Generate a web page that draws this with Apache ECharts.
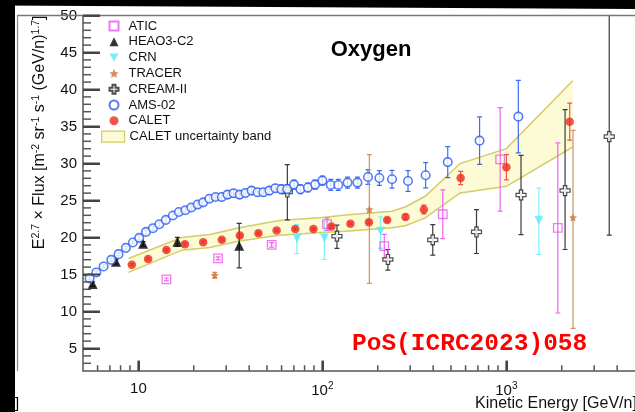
<!DOCTYPE html>
<html><head><meta charset="utf-8">
<script src="https://cdn.jsdelivr.net/npm/echarts@6/dist/echarts.min.js"></script>
<style>html,body{margin:0;padding:0;background:#fff}#c{width:635px;height:412px}</style>
</head><body><div id="c"></div>
<script>
// ---------- data ----------
const amsE = [5.43,5.91,6.47,7.12,7.80,8.55,9.33,10.1,11.0,12.0,13.0,14.1,15.4,16.6,18.0,19.4,21.0,22.5,24.3,26.3,28.4,30.5,32.9,35.5,38.2,41.2,44.4,47.8,51.5,55.5,59.8,64.4,70.1,76.0,83.4,91.3,100,111,122,137,155,177,204,239,292,364,480,715,1161];
const amsV = [14.47,15.28,16.09,16.98,17.75,18.60,19.33,19.95,20.76,21.26,21.79,22.38,22.97,23.45,23.68,24.05,24.45,24.75,25.24,25.48,25.48,25.80,25.98,25.80,26.02,26.34,26.11,26.11,26.34,26.65,26.52,26.56,27.15,26.52,26.75,27.15,27.69,27.10,27.10,27.42,27.42,28.18,28.04,27.87,27.64,28.41,30.19,33.09,36.33];
const amsErr = [0.2,0.2,0.2,0.2,0.2,0.2,0.2,0.3,0.3,0.3,0.3,0.3,0.4,0.4,0.4,0.4,0.4,0.4,0.4,0.4,0.5,0.5,0.5,0.5,0.5,0.5,0.5,0.5,0.5,0.5,0.6,0.6,0.6,0.6,0.6,0.6,0.6,0.75,0.75,0.75,0.75,1.0,1.0,1.2,1.4,1.7,2.1,3.2,4.9];

const caletE = [9.21,11.3,14.2,17.9,22.5,28.4,35.6,44.9,56.4,71.2,89.4,112,142,179,225,283,356,564,1000,2209];
const caletV = [16.33,17.11,18.31,19.10,19.37,19.70,20.28,20.58,20.96,21.16,21.16,21.48,21.86,22.06,22.38,22.78,23.78,28.04,29.49,35.65];
const caletErr = [0.15,0.15,0.15,0.15,0.15,0.15,0.15,0.15,0.15,0.15,0.15,0.15,0.15,0.15,0.2,0.3,0.6,0.9,1.7,2.5];

const bandE  = [8.83,17.2,24.4,35.5,58.3,100,134,239,282,362,560,1000,2294];
const bandHi = [17.17,20.0,20.40,21.32,22.29,22.70,23.05,23.55,24.13,25.57,29.99,32.01,41.19];
const bandLo = [15.28,18.29,18.65,19.54,20.31,20.67,20.85,21.32,21.59,22.65,26.02,26.92,32.23];

const heaoE = [5.64,7.55,10.6,16.3,35.3];
const heaoV = [13.70,16.71,19.14,19.41,18.9];
const heaoErr = [0.3,0.3,0.3,0.6,3.0];

const aticE = [14.2,27.1,53.0,106,217,451,925,1903];
const aticV = [14.33,17.17,19.0,21.80,18.83,23.14,30.56,21.30];
const aticErr = [0.2,0.2,0.3,0.85,1.6,3.3,7.0,11.5];

const crnE = [72.7,102.5,207,1502];
const crnV = [19.87,19.94,20.85,22.33];
const crnLo = [17.84,17.03,18.52,17.71];
const crnHi = [21.75,22.1,22.78,26.69];

const tracerE = [26.0,180,2302];
const tracerV = [14.91,23.78,22.70];
const tracerLo = [14.5,13.79,7.72];
const tracerHi = [15.3,31.2,34.47];

const creamE = [64.5,120,227,398,688,1201,2084,3622];
const creamV = [26.15,20.18,17.03,19.68,20.76,25.75,26.34,33.63];
const creamLo = [22.38,18.52,15.59,17.61,17.84,20.40,18.38,20.31];
const creamHi = [29.85,21.66,18.38,21.75,23.78,31.11,37.27,55];

// axis ranges and ticks
const X_MIN = 5, X_MAX = 5000, Y_MIN = 2, Y_MAX = 50;
const xMajor = [10,100,1000];
const xMinor = [6,7,8,9,20,30,40,50,60,70,80,90,200,300,400,500,600,700,800,900,2000,3000,4000];
const yMajor = [5,10,15,20,25,30,35,40,45,50];
const yMinor = [3,4,6,7,8,9,11,12,13,14,16,17,18,19,21,22,23,24,26,27,28,29,31,32,33,34,36,37,38,39,41,42,43,44,46,47,48,49];

// ---------- helpers ----------
const FONT = "'Liberation Sans', Arial, Helvetica, sans-serif";
const crossPath = 'path://M-1,-3L1,-3L1,-1L3,-1L3,1L1,1L1,3L-1,3L-1,1L-3,1L-3,-1L-1,-1Z';
const starPath = 'path://M0,-10L2.9,-4L9.5,-3.1L4.7,1.5L5.9,8.1L0,5L-5.9,8.1L-4.7,1.5L-9.5,-3.1L-2.9,-4Z';
const downTri = 'path://M-5,-4L5,-4L0,5Z';

function errSeries(name, rows, color, width, cap) {
  return {
    type: 'custom', name: name, clip: true, z: 3,
    encode: {x: 0, y: [1, 2]},
    data: rows,
    renderItem: function (params, api) {
      const x = api.value(0), lo = api.value(1), hi = api.value(2);
      const p1 = api.coord([x, lo]), p2 = api.coord([x, hi]);
      const st = {stroke: color, lineWidth: width};
      return {type: 'group', children: [
        {type: 'line', shape: {x1: p1[0], y1: p1[1], x2: p2[0], y2: p2[1]}, style: st},
        {type: 'line', shape: {x1: p1[0]-cap, y1: p1[1], x2: p1[0]+cap, y2: p1[1]}, style: st},
        {type: 'line', shape: {x1: p2[0]-cap, y1: p2[1], x2: p2[0]+cap, y2: p2[1]}, style: st}
      ]};
    }
  };
}
function symErr(E, V, Err) { return E.map((e, i) => [e, V[i]-Err[i], V[i]+Err[i]]); }
function asymErr(E, Lo, Hi) { return E.map((e, i) => [e, Lo[i], Hi[i]]); }
function pts(E, V) { return E.map((e, i) => [e, V[i]]); }

const bandFill = '#fdfbd6', bandLine = '#d3cc68';

const baseGraphic = [
  {type: 'rect', shape: {x: 0, y: 0, width: 15, height: 412}, style: {fill: '#000'}, z: 100},
  {type: 'polygon', shape: {points: [[0,0],[635,0],[635,9],[0,5.5]]}, style: {fill: '#000'}, z: 100},
  {type: 'line', shape: {x1: 17, y1: 15.5, x2: 635, y2: 15.5}, style: {stroke: '#777', lineWidth: 1.5}, z: 50},
  {type: 'line', shape: {x1: 17.5, y1: 15.5, x2: 17.5, y2: 371}, style: {stroke: '#888', lineWidth: 1.2}, z: 50},
  {type: 'text', x: 371, y: 50, z: 50,
   style: {text: 'Oxygen', font: "bold 22px 'Liberation Sans', Arial, sans-serif", fill: '#000', align: 'center', verticalAlign: 'middle'}},
  {type: 'text', x: 352, y: 344, z: 50,
   style: {text: 'PoS(ICRC2023)058', font: "bold 24.5px 'Liberation Mono', 'Courier New', monospace", fill: '#ff0000', align: 'left', verticalAlign: 'middle'}},
  {type: 'text', x: 40, y: 15.5, rotation: Math.PI / 2, z: 50,
   style: {text: 'E{s|2.7} × Flux [m{s|-2} sr{s|-1} s{s|-1} (GeV/n){s|1.7}]',
     font: "16px 'Liberation Sans', Arial, sans-serif", fill: '#111', align: 'right', verticalAlign: 'middle',
     rich: {s: {fontSize: 10.5, fontFamily: FONT, fill: '#111', verticalAlign: 'top', padding: [0,0,8,0]}}}},
  {type: 'text', x: 475, y: 404, z: 50,
   style: {text: 'Kinetic Energy [GeV/n]', font: "16px 'Liberation Sans', Arial, sans-serif", fill: '#111', align: 'left', verticalAlign: 'middle'}},
  {type: 'text', x: 15, y: 404, z: 101,
   style: {text: ']', font: "15px 'Liberation Sans', Arial, sans-serif", fill: '#000', align: 'left', verticalAlign: 'middle'}}
];

const option = {
  animation: false,
  backgroundColor: '#ffffff',
  grid: {left: 83, top: 15.5, width: 555, height: 355.2, containLabel: false},
  xAxis: {type: 'log', logBase: 10, min: X_MIN, max: X_MAX, position: 'bottom',
     axisLine: {show: true, lineStyle: {color: '#555', width: 1.5}},
     axisTick: {show: true, inside: true, length: 10, customValues: xMajor, lineStyle: {color: '#444', width: 2}},
     axisLabel: {show: true, customValues: xMajor, margin: 11, fontSize: 15, color: '#111', fontFamily: FONT,
       formatter: function (v) { const p = Math.round(Math.log10(v)); return p === 1 ? '10' : '10{s|' + p + '}'; },
       rich: {s: {fontSize: 10, fontFamily: FONT, color: '#111', verticalAlign: 'top', padding: [0,0,9,0]}}},
     splitLine: {show: false}},
  yAxis: {type: 'value', min: Y_MIN, max: Y_MAX, position: 'left',
     axisLine: {show: true, lineStyle: {color: '#555', width: 1.5}},
     axisTick: {show: true, inside: true, length: 17, customValues: yMajor, lineStyle: {color: '#444', width: 2}},
     axisLabel: {show: true, customValues: yMajor, margin: 6, fontSize: 15, color: '#111', fontFamily: FONT},
     splitLine: {show: false}},
  legend: [
    {orient: 'vertical', left: 108.5, top: 18.1, padding: 0, itemWidth: 9, itemHeight: 9, itemGap: 0,
     textStyle: {fontSize: 13, color: '#111', fontFamily: FONT, lineHeight: 15.8, padding: [0,0,0,5]},
     data: [
       {name: 'ATIC'}, {name: 'HEAO3-C2'}, {name: 'CRN', icon: downTri}, {name: 'TRACER'},
       {name: 'CREAM-II'}, {name: 'AMS-02'}, {name: 'CALET'}
     ], selectedMode: false},
    {orient: 'vertical', left: 101, top: 128.8, padding: 0, itemWidth: 23, itemHeight: 11, itemGap: 0,
     textStyle: {fontSize: 13, color: '#111', fontFamily: FONT, lineHeight: 15.8},
     data: [{name: 'CALET uncertainty band', icon: 'rect', itemStyle: {color: bandFill, borderColor: bandLine, borderWidth: 1.2}}],
     selectedMode: false}
  ],
  series: [
    {type: 'custom', name: 'CALET uncertainty band', clip: true, z: 1,
     itemStyle: {color: bandFill, borderColor: bandLine},
     encode: {x: 0, y: [1, 2]},
     data: bandE.map((e, i) => [e, bandLo[i], bandHi[i]]),
     renderItem: function (params, api) {
       if (params.dataIndex !== 0) return null;
       const up = bandE.map((e, i) => api.coord([e, bandHi[i]]));
       const dn = bandE.map((e, i) => api.coord([e, bandLo[i]]));
       return {type: 'group', children: [
         {type: 'polygon', shape: {points: up.concat(dn.slice().reverse())}, style: {fill: bandFill}},
         {type: 'polyline', shape: {points: up}, style: {stroke: bandLine, lineWidth: 1.5, fill: null}},
         {type: 'polyline', shape: {points: dn}, style: {stroke: bandLine, lineWidth: 1.5, fill: null}}
       ]};
     }},
    errSeries('amsErr', symErr(amsE, amsV, amsErr), '#3f6cf2', 1.2, 2.5),
    errSeries('caletErr', symErr(caletE, caletV, caletErr), '#f05545', 1.2, 2.5),
    errSeries('heaoErr', symErr(heaoE, heaoV, heaoErr), '#333333', 1.2, 2.5),
    errSeries('aticErr', symErr(aticE, aticV, aticErr), '#ee66ee', 1.2, 2.5),
    errSeries('crnErr', asymErr(crnE, crnLo, crnHi), '#7ef0fa', 1.2, 2.5),
    errSeries('tracerErr', asymErr(tracerE, tracerLo, tracerHi), '#d0945c', 1.2, 2.5),
    errSeries('creamErr', asymErr(creamE, creamLo, creamHi), '#3a3a3a', 1.2, 2.5),
    {type: 'scatter', name: 'ATIC', z: 5, symbol: 'rect', symbolSize: 8.5, data: pts(aticE, aticV),
     itemStyle: {color: 'rgba(255,255,255,0)', borderColor: '#ee55ee', borderWidth: 1.3}},
    {type: 'scatter', name: 'HEAO3-C2', z: 5, symbol: 'triangle', symbolSize: 10, data: pts(heaoE, heaoV),
     itemStyle: {color: '#000000'}},
    {type: 'scatter', name: 'CRN', z: 5, symbol: downTri, symbolSize: 9, data: pts(crnE, crnV),
     itemStyle: {color: '#5ee8f6'}},
    {type: 'scatter', name: 'TRACER', z: 5, symbol: starPath, symbolSize: 8, data: pts(tracerE, tracerV),
     itemStyle: {color: '#c8743a'}},
    {type: 'scatter', name: 'CREAM-II', z: 5, symbol: crossPath, symbolSize: 10, data: pts(creamE, creamV),
     itemStyle: {color: '#ffffff', borderColor: '#222222', borderWidth: 1.2}},
    {type: 'scatter', name: 'AMS-02', z: 5, symbol: 'circle', symbolSize: 8.5, data: pts(amsE, amsV),
     itemStyle: {color: '#ffffff', borderColor: '#2a5cf0', borderWidth: 1.6}},
    {type: 'scatter', name: 'CALET', z: 6, symbol: 'circle', symbolSize: 8.5, data: pts(caletE, caletV),
     itemStyle: {color: '#ee2b1f'}}
  ],
  graphic: baseGraphic
};
const chart = echarts.init(document.getElementById('c'), null, {renderer: 'canvas'});
let errMsg = '';
try { chart.setOption(option); } catch (e) { errMsg += 'A:' + e.message + ' '; }

// minor (and major) axis ticks, placed through the chart's own axis scales
const refSeries = option.series.length - 1;
function toPx(x, y) {
  let p = null;
  try { p = chart.convertToPixel({seriesIndex: refSeries}, [x, y]); } catch (e) { p = null; }
  if (!p || !isFinite(p[0]) || !isFinite(p[1])) {
    try { p = chart.convertToPixel({gridIndex: 0}, [x, y]); } catch (e) { p = null; }
  }
  return (p && isFinite(p[0]) && isFinite(p[1])) ? p : null;
}
const tickEls = [];
try {
  yMajor.forEach(function (v) { const p = toPx(X_MIN, v); if (p) tickEls.push({type: 'line', z: 60, shape: {x1: p[0], y1: p[1], x2: p[0] + 17, y2: p[1]}, style: {stroke: '#444', lineWidth: 2}}); });
  yMinor.forEach(function (v) { const p = toPx(X_MIN, v); if (p) tickEls.push({type: 'line', z: 60, shape: {x1: p[0], y1: p[1], x2: p[0] + 8, y2: p[1]}, style: {stroke: '#555', lineWidth: 1.5}}); });
  xMajor.forEach(function (v) { const p = toPx(v, Y_MIN); if (p) tickEls.push({type: 'line', z: 60, shape: {x1: p[0], y1: p[1], x2: p[0], y2: p[1] - 10}, style: {stroke: '#444', lineWidth: 2}}); });
  xMinor.forEach(function (v) { const p = toPx(v, Y_MIN); if (p) tickEls.push({type: 'line', z: 60, shape: {x1: p[0], y1: p[1], x2: p[0], y2: p[1] - 5.5}, style: {stroke: '#555', lineWidth: 1.5}}); });
} catch (e) { errMsg += 'B:' + e.message + ' '; }
const extra = errMsg ? [{type: 'text', x: 120, y: 395, z: 200, style: {text: errMsg.slice(0, 80), fontSize: 9, fill: '#999'}}] : [];
try { chart.setOption({graphic: baseGraphic.concat(tickEls, extra)}); } catch (e) {}
</script></body></html>
